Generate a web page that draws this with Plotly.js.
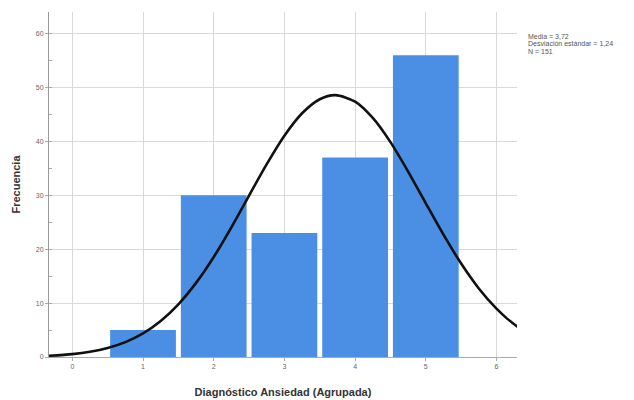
<!DOCTYPE html>
<html><head><meta charset="utf-8">
<script src="https://cdn.plot.ly/plotly-3.0.1.min.js"></script>
<style>html,body{margin:0;padding:0;background:#fff}#chart{width:634px;height:400px}</style>
</head><body><div id="chart"></div>
<script>
var categories = [1, 2, 3, 4, 5];
var frequencies = [5, 30, 23, 37, 56];
var curveX = [-0.33, 0, 0.25, 0.5, 0.75, 1, 1.25, 1.5, 1.75, 2, 2.25, 2.5, 2.75, 3, 3.25, 3.5, 3.72, 4, 4.25, 4.5, 4.75, 5, 5.25, 5.5, 5.75, 6, 6.15, 6.3];
var curveY = [0.23, 0.54, 0.97, 1.67, 2.76, 4.38, 6.68, 9.78, 13.75, 18.56, 24.06, 29.94, 35.77, 41.05, 45.21, 47.82, 48.58, 47.36, 44.34, 39.86, 34.40, 28.51, 22.69, 17.34, 12.72, 8.96, 7.12, 5.58];
var xTicks = [0, 1, 2, 3, 4, 5, 6];
var yTicks = [0, 10, 20, 30, 40, 50, 60];
var statsLines = ["Media = 3,72", "Desviación estándar = 1,24", "N = 151"];

var data = [
  {type: 'bar', x: categories, y: frequencies, width: 0.93,
   marker: {color: '#4a8fe3', line: {width: 0}}, hoverinfo: 'x+y'},
  {type: 'scatter', mode: 'lines', x: curveX, y: curveY,
   line: {color: '#111', width: 2.6, shape: 'spline', smoothing: 0.8}, hoverinfo: 'skip'}
];
var layout = {
  width: 634, height: 400,
  margin: {l: 49, r: 117, t: 12, b: 43},
  paper_bgcolor: '#fff', plot_bgcolor: '#fff',
  showlegend: false,
  font: {family: 'Arial, Liberation Sans, sans-serif', color: '#555'},
  xaxis: {
    range: [-0.33, 6.29], tickvals: xTicks, ticktext: xTicks.map(String),
    showgrid: true, gridcolor: '#d9d9d9', gridwidth: 1,
    zeroline: false, showline: true, linecolor: '#aaa', linewidth: 1,
    ticks: 'outside', ticklen: 3, tickcolor: '#aaa',
    tickfont: {size: 7, color: '#666'},
    title: {text: '<b>Diagnóstico Ansiedad (Agrupada)</b>', font: {size: 11, color: '#333'}, standoff: 18}
  },
  yaxis: {
    range: [0, 64], tickvals: yTicks, ticktext: yTicks.map(String),
    showgrid: true, gridcolor: '#d9d9d9', gridwidth: 1,
    zeroline: false, showline: true, linecolor: '#999', linewidth: 1,
    ticks: 'outside', ticklen: 3, tickcolor: '#aaa',
    minor: {dtick: 5, ticks: 'inside', ticklen: 3, tickcolor: '#aaa', showgrid: false},
    tickfont: {size: 7, color: '#666'},
    title: {text: '<b>Frecuencia</b>', font: {size: 11, color: '#333'}, standoff: 12}
  },
  annotations: statsLines.map(function (t, i) {
    return {xref: 'paper', yref: 'paper', x: 1.02, y: (400 - 43 - 36 - i * 8) / 345,
      xanchor: 'left', yanchor: 'middle', text: t, showarrow: false,
      font: {size: 7, color: '#555'}};
  })
};
Plotly.newPlot('chart', data, layout, {displayModeBar: false});
</script></body></html>
